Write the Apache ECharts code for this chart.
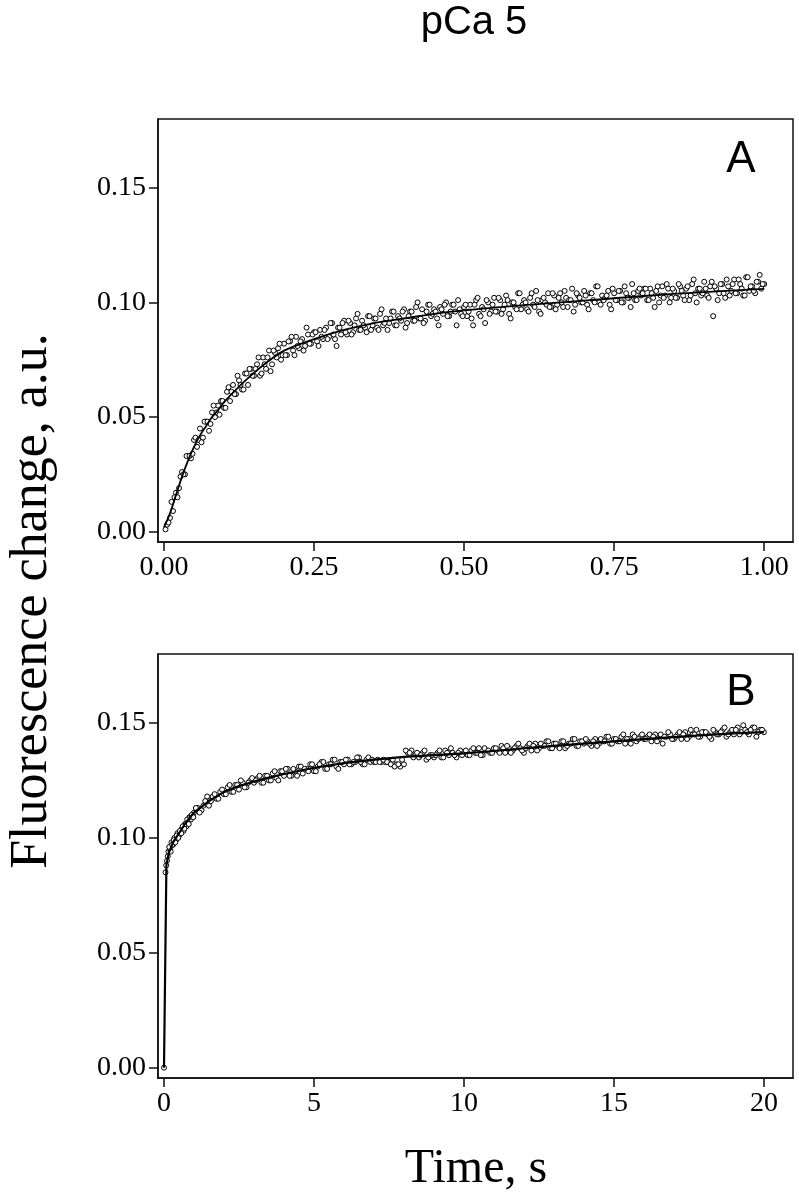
<!DOCTYPE html>
<html>
<head>
<meta charset="utf-8">
<script src="https://cdn.jsdelivr.net/npm/echarts@6/dist/echarts.min.js"></script>
<style>
  html, body { margin: 0; padding: 0; background: #fff; }
  #chart { width: 799px; height: 1199px; }
</style>
</head>
<body>
<div id="chart"></div>
<script>
// panel A: first second, points + fit
const timesA = [0.005,0.01,0.015,0.02,0.025,0.03,0.035,0.04,0.045,0.05,
  0.055,0.06,0.065,0.07,0.075,0.08,0.085,0.09,0.095,0.1,
  0.105,0.11,0.115,0.12,0.125,0.13,0.135,0.14,0.145,0.15,
  0.155,0.16,0.165,0.17,0.175,0.18,0.185,0.19,0.195,0.2,
  0.205,0.21,0.215,0.22,0.225,0.23,0.235,0.24,0.245,0.25,
  0.255,0.26,0.265,0.27,0.275,0.28,0.285,0.29,0.295,0.3,
  0.305,0.31,0.315,0.32,0.325,0.33,0.335,0.34,0.345,0.35,
  0.355,0.36,0.365,0.37,0.375,0.38,0.385,0.39,0.395,0.4,
  0.405,0.41,0.415,0.42,0.425,0.43,0.435,0.44,0.445,0.45,
  0.455,0.46,0.465,0.47,0.475,0.48,0.485,0.49,0.495,0.5,
  0.505,0.51,0.515,0.52,0.525,0.53,0.535,0.54,0.545,0.55,
  0.555,0.56,0.565,0.57,0.575,0.58,0.585,0.59,0.595,0.6,
  0.605,0.61,0.615,0.62,0.625,0.63,0.635,0.64,0.645,0.65,
  0.655,0.66,0.665,0.67,0.675,0.68,0.685,0.69,0.695,0.7,
  0.705,0.71,0.715,0.72,0.725,0.73,0.735,0.74,0.745,0.75,
  0.755,0.76,0.765,0.77,0.775,0.78,0.785,0.79,0.795,0.8,
  0.805,0.81,0.815,0.82,0.825,0.83,0.835,0.84,0.845,0.85,
  0.855,0.86,0.865,0.87,0.875,0.88,0.885,0.89,0.895,0.9,
  0.905,0.91,0.915,0.92,0.925,0.93,0.935,0.94,0.945,0.95,
  0.955,0.96,0.965,0.97,0.975,0.98,0.985,0.99,0.995,1.0]
const valuesA = [0.003,0.006,0.009,0.017,0.019,0.026,0.025,0.033,0.032,0.040,
  0.037,0.045,0.041,0.048,0.044,0.052,0.050,0.055,0.057,0.054,
  0.061,0.057,0.064,0.060,0.066,0.062,0.069,0.064,0.071,0.068,
  0.073,0.068,0.076,0.071,0.079,0.073,0.078,0.080,0.075,0.082,
  0.077,0.083,0.079,0.085,0.080,0.084,0.081,0.086,0.082,0.087,
  0.083,0.088,0.084,0.089,0.085,0.091,0.084,0.089,0.086,0.092,
  0.086,0.091,0.087,0.093,0.088,0.092,0.089,0.094,0.088,0.093,
  0.089,0.095,0.090,0.093,0.091,0.096,0.090,0.094,0.092,0.097,
  0.091,0.096,0.092,0.098,0.093,0.097,0.092,0.099,0.094,0.097,
  0.093,0.098,0.095,0.100,0.094,0.099,0.096,0.101,0.095,0.098,
  0.094,0.099,0.090,0.101,0.095,0.098,0.091,0.100,0.096,0.102,
  0.096,0.101,0.097,0.103,0.095,0.100,0.098,0.104,0.097,0.101,
  0.097,0.102,0.099,0.105,0.096,0.101,0.100,0.104,0.098,0.103,
  0.099,0.104,0.098,0.102,0.101,0.106,0.099,0.103,0.100,0.105,
  0.099,0.104,0.101,0.107,0.100,0.103,0.102,0.105,0.097,0.104,
  0.101,0.105,0.100,0.104,0.102,0.108,0.101,0.105,0.103,0.106,
  0.101,0.106,0.102,0.105,0.100,0.107,0.103,0.106,0.102,0.105,
  0.102,0.107,0.103,0.106,0.101,0.108,0.104,0.106,0.103,0.109,
  0.103,0.107,0.094,0.106,0.104,0.108,0.102,0.107,0.105,0.110,
  0.104,0.108,0.103,0.111,0.105,0.107,0.104,0.109,0.106,0.108]
// second interleaved sweep of panel A
const timesA2 = [0.0025,0.0075,0.0125,0.0175,0.0225,0.0275,0.0325,0.0375,0.0425,0.0475,
  0.0525,0.0575,0.0625,0.0675,0.0725,0.0775,0.0825,0.0875,0.0925,0.0975,
  0.1025,0.1075,0.1125,0.1175,0.1225,0.1275,0.1325,0.1375,0.1425,0.1475,
  0.1525,0.1575,0.1625,0.1675,0.1725,0.1775,0.1825,0.1875,0.1925,0.1975,
  0.2025,0.2075,0.2125,0.2175,0.2225,0.2275,0.2325,0.2375,0.2425,0.2475,
  0.2525,0.2575,0.2625,0.2675,0.2725,0.2775,0.2825,0.2875,0.2925,0.2975,
  0.3025,0.3075,0.3125,0.3175,0.3225,0.3275,0.3325,0.3375,0.3425,0.3475,
  0.3525,0.3575,0.3625,0.3675,0.3725,0.3775,0.3825,0.3875,0.3925,0.3975,
  0.4025,0.4075,0.4125,0.4175,0.4225,0.4275,0.4325,0.4375,0.4425,0.4475,
  0.4525,0.4575,0.4625,0.4675,0.4725,0.4775,0.4825,0.4875,0.4925,0.4975,
  0.5025,0.5075,0.5125,0.5175,0.5225,0.5275,0.5325,0.5375,0.5425,0.5475,
  0.5525,0.5575,0.5625,0.5675,0.5725,0.5775,0.5825,0.5875,0.5925,0.5975,
  0.6025,0.6075,0.6125,0.6175,0.6225,0.6275,0.6325,0.6375,0.6425,0.6475,
  0.6525,0.6575,0.6625,0.6675,0.6725,0.6775,0.6825,0.6875,0.6925,0.6975,
  0.7025,0.7075,0.7125,0.7175,0.7225,0.7275,0.7325,0.7375,0.7425,0.7475,
  0.7525,0.7575,0.7625,0.7675,0.7725,0.7775,0.7825,0.7875,0.7925,0.7975,
  0.8025,0.8075,0.8125,0.8175,0.8225,0.8275,0.8325,0.8375,0.8425,0.8475,
  0.8525,0.8575,0.8625,0.8675,0.8725,0.8775,0.8825,0.8875,0.8925,0.8975,
  0.9025,0.9075,0.9125,0.9175,0.9225,0.9275,0.9325,0.9375,0.9425,0.9475,
  0.9525,0.9575,0.9625,0.9675,0.9725,0.9775,0.9825,0.9875,0.9925,0.9975]
const valuesA2 = [0.001,0.004,0.013,0.015,0.015,0.024,0.025,0.033,0.033,0.034,
  0.041,0.040,0.039,0.048,0.048,0.047,0.055,0.052,0.051,0.057,
  0.054,0.063,0.061,0.060,0.068,0.064,0.062,0.069,0.071,0.068,
  0.071,0.076,0.069,0.073,0.076,0.070,0.079,0.076,0.082,0.077,
  0.077,0.083,0.085,0.077,0.081,0.083,0.079,0.089,0.082,0.086,
  0.087,0.081,0.085,0.088,0.084,0.091,0.086,0.081,0.089,0.091,
  0.087,0.092,0.086,0.090,0.095,0.088,0.090,0.087,0.094,0.090,
  0.093,0.088,0.097,0.091,0.088,0.093,0.096,0.090,0.093,0.096,
  0.089,0.094,0.096,0.092,0.100,0.093,0.091,0.096,0.099,0.095,
  0.096,0.090,0.097,0.099,0.094,0.096,0.099,0.090,0.097,0.094,
  0.099,0.096,0.093,0.099,0.102,0.094,0.097,0.101,0.095,0.099,
  0.096,0.102,0.095,0.099,0.101,0.093,0.100,0.097,0.104,0.099,
  0.100,0.096,0.104,0.098,0.101,0.095,0.102,0.099,0.098,0.104,
  0.097,0.102,0.100,0.105,0.098,0.101,0.096,0.104,0.102,0.100,
  0.103,0.097,0.104,0.100,0.107,0.099,0.101,0.103,0.099,0.106,
  0.101,0.105,0.100,0.107,0.102,0.098,0.104,0.101,0.106,0.104,
  0.106,0.101,0.104,0.098,0.107,0.103,0.102,0.108,0.100,0.106,
  0.102,0.108,0.105,0.101,0.107,0.103,0.110,0.100,0.106,0.104,
  0.106,0.102,0.109,0.107,0.101,0.108,0.104,0.110,0.103,0.108,
  0.104,0.110,0.106,0.103,0.111,0.107,0.105,0.109,0.112,0.108]
const fitTimesA = [0,0.01,0.02,0.03,0.04,0.05,0.06,0.07,0.08,0.09,0.1,0.12,0.14,0.16,0.18,0.2,0.25,0.3,0.35,0.4,0.45,0.5,0.6,0.7,0.8,0.9,1.0]
const fitValuesA = [0.002,0.008,0.016,0.024,0.031,0.037,0.042,0.046,0.050,0.053,0.0565,0.062,0.067,0.0715,0.0755,0.079,0.084,0.088,0.091,0.093,0.095,0.0965,0.0988,0.1008,0.1028,0.1045,0.1059]

// panel B: 20 s trace
const timesB = [0,0.05,0.1,0.15,0.2,0.25,0.3,0.35,0.4,0.45,0.5,0.55,0.6,0.65,0.7,0.75,0.8,0.85,0.9,0.95,1,
  1.125,1.25,1.375,1.5,1.625,1.75,1.875,2,
  2.125,2.25,2.375,2.5,2.625,2.75,2.875,3,
  3.125,3.25,3.375,3.5,3.625,3.75,3.875,4,
  4.125,4.25,4.375,4.5,4.625,4.75,4.875,5,
  5.125,5.25,5.375,5.5,5.625,5.75,5.875,6,
  6.125,6.25,6.375,6.5,6.625,6.75,6.875,7,
  7.125,7.25,7.375,7.5,7.625,7.75,7.875,8,
  8.125,8.25,8.375,8.5,8.625,8.75,8.875,9,
  9.125,9.25,9.375,9.5,9.625,9.75,9.875,10,
  10.125,10.25,10.375,10.5,10.625,10.75,10.875,11,
  11.125,11.25,11.375,11.5,11.625,11.75,11.875,12,
  12.125,12.25,12.375,12.5,12.625,12.75,12.875,13,
  13.125,13.25,13.375,13.5,13.625,13.75,13.875,14,
  14.125,14.25,14.375,14.5,14.625,14.75,14.875,15,
  15.125,15.25,15.375,15.5,15.625,15.75,15.875,16,
  16.125,16.25,16.375,16.5,16.625,16.75,16.875,17,
  17.125,17.25,17.375,17.5,17.625,17.75,17.875,18,
  18.125,18.25,18.375,18.5,18.625,18.75,18.875,19,
  19.125,19.25,19.375,19.5,19.625,19.75,19.875,20]
const valuesB = [0,0.085,0.090,0.094,0.095,0.098,0.097,0.100,0.099,0.102,0.101,0.103,0.104,0.103,0.106,0.105,0.107,0.109,0.108,0.110,0.111,
  0.113,0.112,0.116,0.114,0.118,0.117,0.120,0.119,
  0.122,0.120,0.123,0.121,0.124,0.122,0.125,0.124,
  0.126,0.124,0.127,0.125,0.128,0.126,0.129,0.127,
  0.130,0.127,0.129,0.131,0.128,0.130,0.132,0.129,
  0.131,0.133,0.130,0.132,0.134,0.131,0.133,0.132,
  0.134,0.132,0.133,0.135,0.132,0.134,0.133,0.133,
  0.134,0.133,0.133,0.133,0.134,0.132,0.131,0.132,
  0.137,0.138,0.136,0.135,0.137,0.134,0.136,0.135,
  0.137,0.135,0.138,0.136,0.137,0.135,0.138,0.137,
  0.136,0.138,0.137,0.139,0.136,0.138,0.137,0.139,
  0.138,0.140,0.137,0.139,0.138,0.140,0.139,0.137,
  0.140,0.138,0.141,0.139,0.140,0.142,0.139,0.141,
  0.140,0.142,0.139,0.141,0.143,0.140,0.142,0.141,
  0.142,0.140,0.143,0.141,0.142,0.144,0.141,0.143,
  0.142,0.144,0.141,0.143,0.145,0.142,0.144,0.143,
  0.144,0.142,0.145,0.143,0.141,0.144,0.145,0.143,
  0.145,0.143,0.146,0.144,0.145,0.147,0.144,0.146,
  0.145,0.143,0.146,0.145,0.147,0.144,0.146,0.145,
  0.148,0.146,0.147,0.145,0.148,0.144,0.147,0.146]
// second interleaved sweep of panel B
const timesB2 = [0.075,0.125,0.175,0.225,0.275,0.325,0.375,0.425,0.475,0.525,0.575,0.625,0.675,0.725,0.775,0.825,0.875,0.925,0.975,
  1.0625,1.1875,1.3125,1.4375,1.5625,1.6875,1.8125,1.9375,
  2.0625,2.1875,2.3125,2.4375,2.5625,2.6875,2.8125,2.9375,
  3.0625,3.1875,3.3125,3.4375,3.5625,3.6875,3.8125,3.9375,
  4.0625,4.1875,4.3125,4.4375,4.5625,4.6875,4.8125,4.9375,
  5.0625,5.1875,5.3125,5.4375,5.5625,5.6875,5.8125,5.9375,
  6.0625,6.1875,6.3125,6.4375,6.5625,6.6875,6.8125,6.9375,
  7.0625,7.1875,7.3125,7.4375,7.5625,7.6875,7.8125,7.9375,
  8.0625,8.1875,8.3125,8.4375,8.5625,8.6875,8.8125,8.9375,
  9.0625,9.1875,9.3125,9.4375,9.5625,9.6875,9.8125,9.9375,
  10.0625,10.1875,10.3125,10.4375,10.5625,10.6875,10.8125,10.9375,
  11.0625,11.1875,11.3125,11.4375,11.5625,11.6875,11.8125,11.9375,
  12.0625,12.1875,12.3125,12.4375,12.5625,12.6875,12.8125,12.9375,
  13.0625,13.1875,13.3125,13.4375,13.5625,13.6875,13.8125,13.9375,
  14.0625,14.1875,14.3125,14.4375,14.5625,14.6875,14.8125,14.9375,
  15.0625,15.1875,15.3125,15.4375,15.5625,15.6875,15.8125,15.9375,
  16.0625,16.1875,16.3125,16.4375,16.5625,16.6875,16.8125,16.9375,
  17.0625,17.1875,17.3125,17.4375,17.5625,17.6875,17.8125,17.9375,
  18.0625,18.1875,18.3125,18.4375,18.5625,18.6875,18.8125,18.9375,
  19.0625,19.1875,19.3125,19.4375,19.5625,19.6875,19.8125,19.9375]
const valuesB2 = [0.088,0.092,0.096,0.094,0.097,0.099,0.098,0.101,0.100,0.103,0.102,0.105,0.104,0.106,0.108,0.106,0.109,0.110,0.109,
  0.113,0.111,0.114,0.118,0.116,0.119,0.117,0.121,
  0.119,0.123,0.120,0.123,0.125,0.122,0.124,0.126,
  0.125,0.127,0.124,0.127,0.125,0.129,0.125,0.129,
  0.130,0.127,0.130,0.127,0.131,0.130,0.129,0.132,
  0.129,0.132,0.133,0.130,0.132,0.134,0.130,0.133,
  0.134,0.132,0.133,0.135,0.133,0.132,0.135,0.134,
  0.133,0.133,0.134,0.133,0.132,0.131,0.132,0.134,
  0.138,0.137,0.135,0.137,0.136,0.138,0.135,0.136,
  0.136,0.138,0.135,0.137,0.139,0.136,0.137,0.136,
  0.138,0.136,0.139,0.137,0.136,0.139,0.138,0.137,
  0.139,0.137,0.139,0.140,0.137,0.139,0.141,0.138,
  0.139,0.141,0.140,0.138,0.141,0.140,0.142,0.139,
  0.141,0.139,0.142,0.140,0.141,0.143,0.140,0.142,
  0.143,0.141,0.142,0.140,0.143,0.142,0.144,0.141,
  0.143,0.142,0.145,0.143,0.141,0.144,0.143,0.145,
  0.143,0.145,0.144,0.142,0.145,0.144,0.146,0.143,
  0.144,0.146,0.145,0.143,0.147,0.145,0.144,0.146,
  0.146,0.144,0.147,0.145,0.146,0.148,0.145,0.147,
  0.147,0.145,0.149,0.146,0.147,0.148,0.146,0.147]
const fitTimesB = [0,0.08,0.15,0.3,0.5,0.75,1,1.5,2,2.5,3,3.5,4,5,6,7,8,9,10,11,12,13,14,15,16,17,18,19,20]
const fitValuesB = [0,0.088,0.093,0.098,0.102,0.107,0.111,0.116,0.120,0.1225,0.1245,0.1262,0.1278,0.1305,0.1325,0.134,0.1352,0.136,0.1368,0.1378,0.139,0.140,0.141,0.142,0.143,0.1438,0.1447,0.1455,0.146]

const yTicks = [0, 0.05, 0.10, 0.15]
const xTicksA = [0, 0.25, 0.5, 0.75, 1.0]
const xTicksB = [0, 5, 10, 15, 20]

const serif = 'Liberation Serif'
const sans = 'Liberation Sans'
const ink = '#111'

function pairs(xs, ys) {
  return xs.map(function (x, i) { return [x, ys[i]] })
}

function xAxis(idx, min, max, ticks, digits) {
  return {
    type: 'value', gridIndex: idx, min: min, max: max,
    axisLine: { show: true, onZero: false, lineStyle: { color: ink, width: 1.5 } },
    axisTick: { show: true, length: 9, customValues: ticks, lineStyle: { color: ink, width: 1.5 } },
    axisLabel: {
      customValues: ticks, margin: 12, color: '#000', fontFamily: serif, fontSize: 28,
      formatter: function (v) { return v.toFixed(digits) }
    },
    splitLine: { show: false }
  }
}

function yAxis(idx) {
  return {
    type: 'value', gridIndex: idx, min: -0.0045, max: 0.18,
    axisLine: { show: true, onZero: false, lineStyle: { color: ink, width: 1.5 } },
    axisTick: { show: true, length: 9, customValues: yTicks, lineStyle: { color: ink, width: 1.5 } },
    axisLabel: {
      customValues: yTicks, margin: 12, color: '#000', fontFamily: serif, fontSize: 28,
      formatter: function (v) { return v.toFixed(2) }
    },
    splitLine: { show: false }
  }
}

function points(idx, data) {
  return {
    type: 'scatter', xAxisIndex: idx, yAxisIndex: idx, data: data,
    symbol: 'circle', symbolSize: 5,
    itemStyle: { color: '#fff', borderColor: '#000', borderWidth: 1, opacity: 1 },
    z: 2
  }
}

function fit(idx, data, width, smooth) {
  return {
    type: 'line', xAxisIndex: idx, yAxisIndex: idx, data: data,
    showSymbol: false, smooth: smooth,
    lineStyle: { color: '#000', width: width },
    z: 3
  }
}

var chart = echarts.init(document.getElementById('chart'), null, { renderer: 'canvas' })
chart.setOption({
  animation: false,
  backgroundColor: '#fff',
  grid: [
    { left: 158, top: 119, width: 635, height: 423, show: true, borderColor: ink, borderWidth: 1.5 },
    { left: 158, top: 654, width: 635, height: 424, show: true, borderColor: ink, borderWidth: 1.5 }
  ],
  xAxis: [
    xAxis(0, -0.01, 1.048, xTicksA, 2),
    xAxis(1, -0.2, 20.97, xTicksB, 0)
  ],
  yAxis: [yAxis(0), yAxis(1)],
  series: [
    points(0, pairs(timesA, valuesA)),
    points(0, pairs(timesA2, valuesA2)),
    fit(0, pairs(fitTimesA, fitValuesA), 1.8, 0.3),
    points(1, pairs(timesB, valuesB)),
    points(1, pairs(timesB2, valuesB2)),
    fit(1, pairs(fitTimesB, fitValuesB), 2.2, false)
  ],
  graphic: [
    { type: 'text', x: 474, y: 23, style: { text: 'pCa 5', font: '40px ' + sans, fill: '#000', textAlign: 'center', textVerticalAlign: 'middle' } },
    { type: 'text', x: 741, y: 160, style: { text: 'A', font: '44px ' + sans, fill: '#000', textAlign: 'center', textVerticalAlign: 'middle' } },
    { type: 'text', x: 741, y: 693, style: { text: 'B', font: '44px ' + sans, fill: '#000', textAlign: 'center', textVerticalAlign: 'middle' } },
    { type: 'text', x: 476, y: 1169, style: { text: 'Time, s', font: '48px ' + serif, fill: '#000', textAlign: 'center', textVerticalAlign: 'middle' } },
    { type: 'text', x: 32, y: 601, rotation: Math.PI / 2, style: { text: 'Fluorescence change, a.u.', font: '52px ' + serif, fill: '#000', textAlign: 'center', textVerticalAlign: 'middle' } }
  ]
})
</script>
</body>
</html>
